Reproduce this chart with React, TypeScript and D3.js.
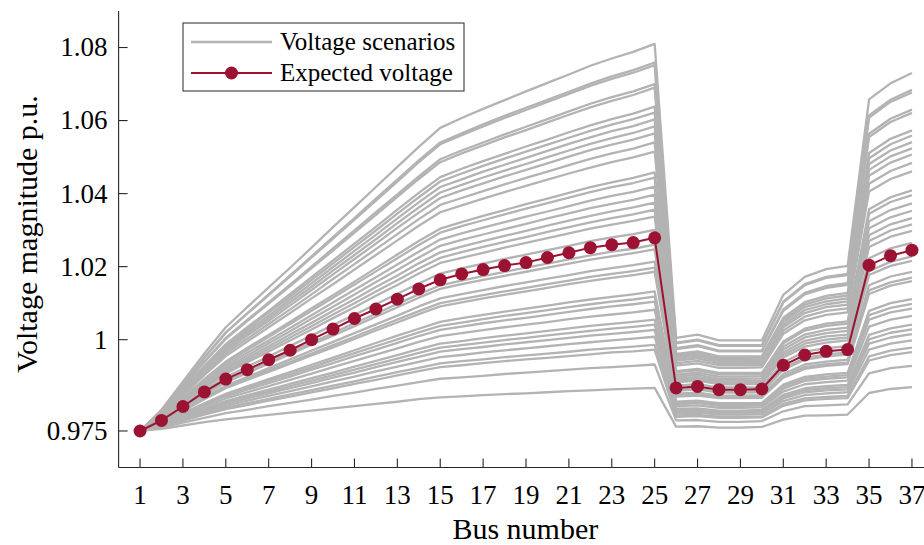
import React from 'react';
import * as d3 from 'd3';

// Bus numbers (x categories)
const buses = [1, 2, 3, 4, 5, 6, 7, 8, 9, 10, 11, 12, 13, 14, 15, 16, 17, 18, 19, 20, 21, 22, 23, 24, 25, 26, 27, 28, 29, 30, 31, 32, 33, 34, 35, 36, 37];

const xTicks = [1, 3, 5, 7, 9, 11, 13, 15, 17, 19, 21, 23, 25, 27, 29, 31, 33, 35, 37];
const yTicks = [0.975, 1, 1.02, 1.04, 1.06, 1.08];
const yTickLabels = ['0.975', '1', '1.02', '1.04', '1.06', '1.08'];

// Expected voltage (red line with markers)
const expectedVoltage = [0.975, 0.9779, 0.9817, 0.9857, 0.9892, 0.9918, 0.9945, 0.9971, 1.0000, 1.0029, 1.0058, 1.0084, 1.0111, 1.0139, 1.0164, 1.0180, 1.0192, 1.0203, 1.0211, 1.0225, 1.0238, 1.0252, 1.0260, 1.0266, 1.0279, 0.9868, 0.9872, 0.9863, 0.9863, 0.9865, 0.9930, 0.9958, 0.9968, 0.9973, 1.0204, 1.0230, 1.0245];

// Voltage scenarios (gray lines), one row per scenario
const scenarioVoltages = [
  [0.975, 0.9808, 0.9885, 0.9962, 1.0034, 1.0089, 1.0143, 1.0197, 1.0252, 1.0308, 1.0363, 1.0418, 1.0473, 1.0528, 1.0580, 1.0607, 1.0632, 1.0656, 1.0680, 1.0703, 1.0726, 1.0750, 1.0770, 1.0788, 1.0810, 1.0005, 1.0014, 0.9998, 0.9998, 0.9998, 1.0123, 1.0172, 1.0193, 1.0202, 1.0658, 1.0702, 1.0730],
  [0.975, 0.9806, 0.9878, 0.9952, 1.0020, 1.0073, 1.0124, 1.0176, 1.0228, 1.0281, 1.0333, 1.0386, 1.0438, 1.0491, 1.0540, 1.0565, 1.0590, 1.0613, 1.0635, 1.0657, 1.0679, 1.0701, 1.0721, 1.0738, 1.0759, 0.9992, 1.0000, 0.9985, 0.9985, 0.9985, 1.0104, 1.0152, 1.0172, 1.0180, 1.0614, 1.0657, 1.0684],
  [0.975, 0.9805, 0.9877, 0.9950, 1.0019, 1.0071, 1.0122, 1.0173, 1.0225, 1.0277, 1.0329, 1.0381, 1.0433, 1.0486, 1.0535, 1.0560, 1.0584, 1.0607, 1.0629, 1.0651, 1.0673, 1.0695, 1.0714, 1.0731, 1.0752, 0.9990, 0.9998, 0.9983, 0.9983, 0.9983, 1.0102, 1.0149, 1.0169, 1.0177, 1.0608, 1.0651, 1.0677],
  [0.975, 0.9802, 0.9871, 0.9940, 1.0005, 1.0054, 1.0102, 1.0151, 1.0200, 1.0250, 1.0299, 1.0349, 1.0398, 1.0447, 1.0494, 1.0518, 1.0540, 1.0562, 1.0583, 1.0604, 1.0625, 1.0646, 1.0664, 1.0680, 1.0700, 0.9977, 0.9985, 0.9970, 0.9970, 0.9970, 1.0083, 1.0128, 1.0147, 1.0155, 1.0564, 1.0605, 1.0630],
  [0.975, 0.9802, 0.9869, 0.9938, 1.0002, 1.0051, 1.0099, 1.0147, 1.0196, 1.0244, 1.0293, 1.0342, 1.0391, 1.0440, 1.0486, 1.0510, 1.0532, 1.0554, 1.0574, 1.0595, 1.0616, 1.0636, 1.0654, 1.0670, 1.0690, 0.9974, 0.9982, 0.9968, 0.9968, 0.9968, 1.0079, 1.0124, 1.0142, 1.0150, 1.0555, 1.0596, 1.0621],
  [0.975, 0.9799, 0.9863, 0.9928, 0.9988, 1.0034, 1.0079, 1.0125, 1.0171, 1.0217, 1.0263, 1.0309, 1.0356, 1.0402, 1.0445, 1.0468, 1.0489, 1.0509, 1.0529, 1.0548, 1.0568, 1.0587, 1.0604, 1.0619, 1.0638, 0.9961, 0.9968, 0.9954, 0.9954, 0.9955, 1.0060, 1.0103, 1.0120, 1.0128, 1.0511, 1.0550, 1.0573],
  [0.975, 0.9798, 0.9861, 0.9924, 0.9984, 1.0029, 1.0074, 1.0118, 1.0163, 1.0209, 1.0254, 1.0299, 1.0345, 1.0390, 1.0433, 1.0455, 1.0476, 1.0496, 1.0515, 1.0534, 1.0553, 1.0572, 1.0589, 1.0604, 1.0622, 0.9957, 0.9964, 0.9950, 0.9950, 0.9951, 1.0054, 1.0096, 1.0113, 1.0121, 1.0497, 1.0535, 1.0559],
  [0.975, 0.9797, 0.9858, 0.9921, 0.9979, 1.0023, 1.0066, 1.0110, 1.0154, 1.0199, 1.0243, 1.0287, 1.0332, 1.0376, 1.0418, 1.0439, 1.0460, 1.0479, 1.0498, 1.0517, 1.0536, 1.0554, 1.0571, 1.0585, 1.0603, 0.9952, 0.9959, 0.9946, 0.9946, 0.9946, 1.0048, 1.0089, 1.0105, 1.0113, 1.0481, 1.0518, 1.0541],
  [0.975, 0.9796, 0.9856, 0.9917, 0.9974, 1.0017, 1.0059, 1.0102, 1.0145, 1.0189, 1.0232, 1.0275, 1.0319, 1.0362, 1.0403, 1.0424, 1.0444, 1.0463, 1.0481, 1.0500, 1.0518, 1.0536, 1.0552, 1.0566, 1.0584, 0.9947, 0.9954, 0.9941, 0.9941, 0.9941, 1.0041, 1.0081, 1.0097, 1.0105, 1.0465, 1.0502, 1.0524],
  [0.975, 0.9795, 0.9854, 0.9913, 0.9968, 1.0011, 1.0052, 1.0094, 1.0136, 1.0179, 1.0221, 1.0263, 1.0306, 1.0348, 1.0388, 1.0409, 1.0428, 1.0447, 1.0465, 1.0483, 1.0501, 1.0519, 1.0534, 1.0548, 1.0565, 0.9942, 0.9949, 0.9936, 0.9936, 0.9936, 1.0034, 1.0073, 1.0089, 1.0096, 1.0449, 1.0485, 1.0507],
  [0.975, 0.9793, 0.9850, 0.9908, 0.9962, 1.0003, 1.0043, 1.0083, 1.0124, 1.0166, 1.0207, 1.0248, 1.0289, 1.0330, 1.0369, 1.0388, 1.0407, 1.0425, 1.0443, 1.0460, 1.0478, 1.0495, 1.0510, 1.0523, 1.0540, 0.9935, 0.9942, 0.9930, 0.9930, 0.9930, 1.0025, 1.0063, 1.0079, 1.0086, 1.0427, 1.0462, 1.0484],
  [0.975, 0.9792, 0.9847, 0.9903, 0.9955, 0.9995, 1.0034, 1.0073, 1.0113, 1.0152, 1.0192, 1.0232, 1.0272, 1.0312, 1.0349, 1.0368, 1.0386, 1.0404, 1.0421, 1.0438, 1.0455, 1.0471, 1.0486, 1.0499, 1.0515, 0.9929, 0.9935, 0.9923, 0.9923, 0.9924, 1.0016, 1.0053, 1.0068, 1.0075, 1.0406, 1.0440, 1.0461],
  [0.975, 0.9789, 0.9840, 0.9892, 0.9940, 0.9977, 1.0013, 1.0049, 1.0086, 1.0122, 1.0159, 1.0196, 1.0233, 1.0270, 1.0304, 1.0322, 1.0339, 1.0355, 1.0371, 1.0386, 1.0402, 1.0418, 1.0431, 1.0443, 1.0458, 0.9914, 0.9920, 0.9909, 0.9909, 0.9909, 0.9995, 1.0030, 1.0044, 1.0050, 1.0357, 1.0390, 1.0409],
  [0.975, 0.9788, 0.9838, 0.9889, 0.9936, 0.9972, 1.0007, 1.0043, 1.0079, 1.0115, 1.0151, 1.0187, 1.0223, 1.0259, 1.0293, 1.0311, 1.0327, 1.0343, 1.0359, 1.0374, 1.0389, 1.0404, 1.0418, 1.0429, 1.0444, 0.9911, 0.9916, 0.9905, 0.9905, 0.9906, 0.9990, 1.0025, 1.0038, 1.0044, 1.0345, 1.0377, 1.0396],
  [0.975, 0.9787, 0.9835, 0.9884, 0.9929, 0.9964, 0.9998, 1.0032, 1.0067, 1.0102, 1.0137, 1.0171, 1.0206, 1.0241, 1.0274, 1.0291, 1.0307, 1.0322, 1.0337, 1.0351, 1.0366, 1.0381, 1.0394, 1.0405, 1.0419, 0.9904, 0.9910, 0.9899, 0.9899, 0.9900, 0.9981, 1.0014, 1.0027, 1.0033, 1.0324, 1.0355, 1.0373],
  [0.975, 0.9786, 0.9832, 0.9879, 0.9923, 0.9957, 0.9990, 1.0023, 1.0057, 1.0090, 1.0124, 1.0158, 1.0191, 1.0225, 1.0257, 1.0273, 1.0288, 1.0303, 1.0317, 1.0332, 1.0346, 1.0360, 1.0372, 1.0383, 1.0397, 0.9899, 0.9904, 0.9893, 0.9893, 0.9894, 0.9973, 1.0006, 1.0018, 1.0024, 1.0305, 1.0335, 1.0353],
  [0.975, 0.9784, 0.9829, 0.9875, 0.9918, 0.9950, 0.9982, 1.0014, 1.0046, 1.0079, 1.0111, 1.0144, 1.0176, 1.0209, 1.0239, 1.0255, 1.0270, 1.0284, 1.0298, 1.0312, 1.0326, 1.0339, 1.0351, 1.0362, 1.0375, 0.9893, 0.9898, 0.9888, 0.9888, 0.9888, 0.9965, 0.9997, 1.0009, 1.0014, 1.0286, 1.0316, 1.0333],
  [0.975, 0.9783, 0.9827, 0.9871, 0.9912, 0.9944, 0.9975, 1.0006, 1.0037, 1.0069, 1.0100, 1.0132, 1.0163, 1.0195, 1.0224, 1.0240, 1.0254, 1.0268, 1.0281, 1.0295, 1.0308, 1.0321, 1.0333, 1.0343, 1.0356, 0.9888, 0.9893, 0.9883, 0.9883, 0.9884, 0.9958, 0.9989, 1.0000, 1.0006, 1.0270, 1.0299, 1.0316],
  [0.975, 0.9782, 0.9825, 0.9867, 0.9907, 0.9938, 0.9968, 0.9998, 1.0028, 1.0059, 1.0089, 1.0120, 1.0150, 1.0181, 1.0210, 1.0224, 1.0238, 1.0252, 1.0265, 1.0278, 1.0291, 1.0304, 1.0315, 1.0325, 1.0337, 0.9883, 0.9888, 0.9878, 0.9878, 0.9879, 0.9951, 0.9981, 0.9992, 0.9998, 1.0254, 1.0282, 1.0298],
  [0.975, 0.9780, 0.9820, 0.9860, 0.9898, 0.9926, 0.9954, 0.9983, 1.0011, 1.0040, 1.0068, 1.0097, 1.0126, 1.0154, 1.0181, 1.0195, 1.0208, 1.0221, 1.0233, 1.0245, 1.0257, 1.0270, 1.0280, 1.0289, 1.0301, 0.9874, 0.9878, 0.9869, 0.9869, 0.9870, 0.9938, 0.9967, 0.9977, 0.9982, 1.0223, 1.0250, 1.0265],
  [0.975, 0.9778, 0.9815, 0.9852, 0.9887, 0.9913, 0.9939, 0.9965, 0.9992, 1.0018, 1.0045, 1.0071, 1.0098, 1.0124, 1.0149, 1.0162, 1.0174, 1.0186, 1.0197, 1.0208, 1.0220, 1.0231, 1.0241, 1.0249, 1.0260, 0.9863, 0.9867, 0.9858, 0.9858, 0.9860, 0.9923, 0.9950, 0.9960, 0.9965, 1.0188, 1.0213, 1.0228],
  [0.975, 0.9777, 0.9813, 0.9849, 0.9883, 0.9909, 0.9934, 0.9960, 0.9986, 1.0011, 1.0037, 1.0063, 1.0089, 1.0115, 1.0139, 1.0152, 1.0164, 1.0175, 1.0186, 1.0197, 1.0208, 1.0219, 1.0228, 1.0237, 1.0247, 0.9860, 0.9864, 0.9855, 0.9855, 0.9856, 0.9918, 0.9945, 0.9954, 0.9959, 1.0177, 1.0202, 1.0216],
  [0.975, 0.9776, 0.9809, 0.9843, 0.9874, 0.9898, 0.9922, 0.9946, 0.9970, 0.9994, 1.0018, 1.0042, 1.0066, 1.0091, 1.0113, 1.0125, 1.0136, 1.0147, 1.0157, 1.0167, 1.0177, 1.0188, 1.0196, 1.0204, 1.0214, 0.9852, 0.9855, 0.9847, 0.9847, 0.9848, 0.9906, 0.9932, 0.9940, 0.9945, 1.0149, 1.0173, 1.0186],
  [0.975, 0.9775, 0.9807, 0.9839, 0.9870, 0.9893, 0.9916, 0.9939, 0.9962, 0.9985, 1.0008, 1.0032, 1.0055, 1.0078, 1.0100, 1.0111, 1.0122, 1.0132, 1.0142, 1.0152, 1.0162, 1.0172, 1.0180, 1.0188, 1.0197, 0.9847, 0.9850, 0.9842, 0.9842, 0.9844, 0.9900, 0.9925, 0.9933, 0.9937, 1.0135, 1.0157, 1.0170],
  [0.975, 0.9774, 0.9805, 0.9837, 0.9867, 0.9890, 0.9912, 0.9934, 0.9957, 0.9979, 1.0002, 1.0025, 1.0047, 1.0070, 1.0091, 1.0102, 1.0113, 1.0123, 1.0132, 1.0142, 1.0152, 1.0161, 1.0169, 1.0177, 1.0186, 0.9844, 0.9847, 0.9840, 0.9840, 0.9841, 0.9896, 0.9920, 0.9928, 0.9933, 1.0125, 1.0148, 1.0160],
  [0.975, 0.9771, 0.9799, 0.9826, 0.9852, 0.9872, 0.9892, 0.9911, 0.9931, 0.9951, 0.9971, 0.9991, 1.0011, 1.0030, 1.0049, 1.0059, 1.0068, 1.0077, 1.0085, 1.0093, 1.0102, 1.0110, 1.0117, 1.0124, 1.0132, 0.9830, 0.9833, 0.9826, 0.9826, 0.9827, 0.9877, 0.9898, 0.9905, 0.9909, 1.0079, 1.0100, 1.0111],
  [0.975, 0.9770, 0.9797, 0.9824, 0.9849, 0.9868, 0.9887, 0.9905, 0.9924, 0.9944, 0.9963, 0.9982, 1.0001, 1.0020, 1.0038, 1.0047, 1.0056, 1.0065, 1.0073, 1.0081, 1.0089, 1.0097, 1.0104, 1.0110, 1.0118, 0.9827, 0.9829, 0.9822, 0.9822, 0.9824, 0.9872, 0.9893, 0.9899, 0.9903, 1.0067, 1.0087, 1.0098],
  [0.975, 0.9769, 0.9795, 0.9821, 0.9845, 0.9863, 0.9881, 0.9899, 0.9918, 0.9936, 0.9955, 0.9973, 0.9991, 1.0010, 1.0027, 1.0036, 1.0045, 1.0053, 1.0060, 1.0068, 1.0076, 1.0084, 1.0091, 1.0097, 1.0104, 0.9823, 0.9826, 0.9819, 0.9819, 0.9820, 0.9866, 0.9887, 0.9893, 0.9897, 1.0055, 1.0075, 1.0085],
  [0.975, 0.9768, 0.9792, 0.9816, 0.9839, 0.9856, 0.9873, 0.9890, 0.9907, 0.9925, 0.9942, 0.9959, 0.9976, 0.9994, 1.0010, 1.0018, 1.0026, 1.0034, 1.0041, 1.0048, 1.0056, 1.0063, 1.0069, 1.0075, 1.0082, 0.9818, 0.9820, 0.9813, 0.9813, 0.9815, 0.9858, 0.9878, 0.9884, 0.9888, 1.0036, 1.0055, 1.0065],
  [0.975, 0.9767, 0.9789, 0.9811, 0.9832, 0.9848, 0.9863, 0.9879, 0.9895, 0.9910, 0.9926, 0.9942, 0.9958, 0.9974, 0.9989, 0.9996, 1.0004, 1.0011, 1.0017, 1.0024, 1.0031, 1.0038, 1.0043, 1.0049, 1.0055, 0.9811, 0.9812, 0.9806, 0.9806, 0.9808, 0.9849, 0.9867, 0.9873, 0.9876, 1.0013, 1.0031, 1.0041],
  [0.975, 0.9766, 0.9787, 0.9808, 0.9828, 0.9843, 0.9858, 0.9873, 0.9888, 0.9903, 0.9918, 0.9933, 0.9948, 0.9964, 0.9978, 0.9985, 0.9992, 0.9999, 1.0005, 1.0012, 1.0018, 1.0024, 1.0030, 1.0035, 1.0041, 0.9807, 0.9809, 0.9803, 0.9803, 0.9804, 0.9844, 0.9862, 0.9867, 0.9870, 1.0001, 1.0019, 1.0028],
  [0.975, 0.9765, 0.9785, 0.9805, 0.9824, 0.9839, 0.9853, 0.9867, 0.9881, 0.9896, 0.9910, 0.9925, 0.9939, 0.9953, 0.9967, 0.9974, 0.9980, 0.9987, 0.9993, 0.9999, 1.0005, 1.0011, 1.0016, 1.0021, 1.0027, 0.9803, 0.9805, 0.9799, 0.9799, 0.9801, 0.9839, 0.9856, 0.9861, 0.9864, 0.9989, 1.0006, 1.0015],
  [0.975, 0.9764, 0.9783, 0.9802, 0.9819, 0.9833, 0.9846, 0.9859, 0.9872, 0.9886, 0.9899, 0.9913, 0.9926, 0.9939, 0.9952, 0.9958, 0.9965, 0.9971, 0.9976, 0.9982, 0.9988, 0.9993, 0.9998, 1.0003, 1.0008, 0.9798, 0.9800, 0.9795, 0.9795, 0.9796, 0.9832, 0.9848, 0.9853, 0.9856, 0.9973, 0.9989, 0.9998],
  [0.975, 0.9763, 0.9780, 0.9797, 0.9813, 0.9826, 0.9838, 0.9850, 0.9862, 0.9874, 0.9886, 0.9899, 0.9911, 0.9923, 0.9935, 0.9941, 0.9946, 0.9952, 0.9957, 0.9962, 0.9967, 0.9973, 0.9977, 0.9981, 0.9986, 0.9793, 0.9794, 0.9789, 0.9789, 0.9790, 0.9824, 0.9839, 0.9843, 0.9846, 0.9954, 0.9970, 0.9978],
  [0.975, 0.9762, 0.9778, 0.9795, 0.9810, 0.9821, 0.9833, 0.9844, 0.9856, 0.9867, 0.9879, 0.9890, 0.9902, 0.9914, 0.9925, 0.9930, 0.9936, 0.9941, 0.9946, 0.9950, 0.9955, 0.9960, 0.9965, 0.9968, 0.9973, 0.9789, 0.9791, 0.9786, 0.9786, 0.9787, 0.9819, 0.9834, 0.9838, 0.9840, 0.9943, 0.9958, 0.9966],
  [0.975, 0.9760, 0.9773, 0.9786, 0.9799, 0.9808, 0.9818, 0.9827, 0.9836, 0.9846, 0.9855, 0.9865, 0.9874, 0.9884, 0.9893, 0.9897, 0.9901, 0.9906, 0.9910, 0.9914, 0.9918, 0.9922, 0.9925, 0.9928, 0.9932, 0.9779, 0.9780, 0.9775, 0.9775, 0.9777, 0.9804, 0.9818, 0.9820, 0.9823, 0.9908, 0.9922, 0.9928],
  [0.975, 0.9756, 0.9765, 0.9774, 0.9782, 0.9788, 0.9794, 0.9800, 0.9806, 0.9812, 0.9818, 0.9824, 0.9830, 0.9837, 0.9842, 0.9845, 0.9848, 0.9851, 0.9853, 0.9856, 0.9859, 0.9861, 0.9864, 0.9866, 0.9868, 0.9762, 0.9763, 0.9759, 0.9759, 0.9761, 0.9781, 0.9792, 0.9793, 0.9795, 0.9854, 0.9865, 0.9870],
];

const W = 924;
const H = 545;
const FONT = 'Liberation Serif';
const GRAY = '#b3b3b3';
const RED = '#9b1232';
const AXIS = '#262626';

const App: React.FC = () => {
  const x = d3.scaleLinear().domain([0, 38]).range([118.6, 933.4]);
  const y = d3.scaleLinear().domain([0.965, 1.09]).range([467.5, 11]);

  const line = d3.line<number>()
    .x((_, i) => x(buses[i]))
    .y(v => y(v));

  const x0 = x(0);
  const yBottom = y(0.965);
  const tickLen = 9;
  const textStyle = { fontFamily: FONT };

  return (
    <div style={{ position: 'absolute', left: 0, top: 0 }}>
      <svg width={W} height={H} style={{ display: 'block', background: '#fff' }}>
        {/* gray scenarios */}
        <g fill="none" stroke={GRAY} strokeWidth={2.3} strokeLinejoin="round">
          {scenarioVoltages.map((s, i) => (
            <path key={i} d={line(s) || ''} />
          ))}
        </g>

        {/* expected voltage */}
        <path d={line(expectedVoltage) || ''} fill="none" stroke={RED} strokeWidth={2} />
        <g fill={RED}>
          {expectedVoltage.map((v, i) => (
            <circle key={i} cx={x(buses[i])} cy={y(v)} r={6.5} />
          ))}
        </g>

        {/* axes */}
        <g stroke={AXIS} strokeWidth={1.1} fill="none">
          <line x1={x0} x2={x0} y1={y(1.09)} y2={yBottom} />
          <line x1={x0} x2={W} y1={yBottom} y2={yBottom} />
          {yTicks.map(t => (
            <line key={t} x1={x0} x2={x0 + tickLen} y1={y(t)} y2={y(t)} />
          ))}
          {xTicks.map(t => (
            <line key={t} x1={x(t)} x2={x(t)} y1={yBottom} y2={yBottom - tickLen} />
          ))}
        </g>

        <g style={textStyle} fontSize={27} fill="#000">
          {yTicks.map((t, i) => (
            <text key={t} x={x0 - 11} y={y(t)} dy="0.33em" textAnchor="end">{yTickLabels[i]}</text>
          ))}
          {xTicks.map(t => (
            <text key={t} x={x(t)} y={504} textAnchor="middle">{t}</text>
          ))}
        </g>

        <text x={(x0 + W + 8) / 2} y={539} textAnchor="middle" style={textStyle} fontSize={30} fill="#000">Bus number</text>
        <text transform={`translate(37, 234) rotate(-90)`} textAnchor="middle" style={textStyle} fontSize={30} fill="#000">Voltage magnitude p.u.</text>

        {/* legend */}
        <g>
          <rect x={183} y={23} width={281} height={68} fill="#fff" stroke={AXIS} strokeWidth={1} />
          <line x1={191} x2={272} y1={42} y2={42} stroke={GRAY} strokeWidth={2.3} />
          <line x1={191} x2={272} y1={73} y2={73} stroke={RED} strokeWidth={2} />
          <circle cx={231.5} cy={73} r={6.5} fill={RED} />
          <text x={280} y={50} style={textStyle} fontSize={25} fill="#000">Voltage scenarios</text>
          <text x={280} y={81} style={textStyle} fontSize={25} fill="#000">Expected voltage</text>
        </g>
      </svg>
    </div>
  );
};

export default App;
